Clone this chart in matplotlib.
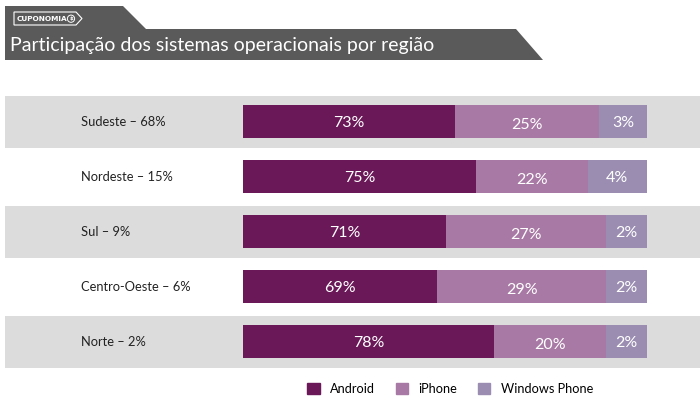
import matplotlib
matplotlib.use('Agg')
import matplotlib.pyplot as plt
from matplotlib.patches import Polygon, Patch

plt.rcParams['font.family'] = ['Lato', 'DejaVu Sans']

# data
regions = ['Sudeste – 68%', 'Nordeste – 15%', 'Sul – 9%', 'Centro-Oeste – 6%', 'Norte – 2%']
android_lbl = [73, 75, 71, 69, 78]
iphone_lbl = [25, 22, 27, 29, 20]
wphone_lbl = [3, 4, 2, 2, 2]
# segment lengths as drawn in the original graphic (share of the bar, %)
android_len = [52.5, 57.7, 50.2, 48.1, 62.1]
iphone_len = [35.6, 27.6, 39.6, 41.7, 27.7]
wphone_len = [11.9, 14.7, 10.2, 10.2, 10.2]

c_android = '#6a1858'
c_iphone = '#a879a5'
c_wphone = '#9a8db1'
c_band = '#dcdcdc'

W, H = 700, 405
fig = plt.figure(figsize=(7, 4.05), dpi=100)
fig.patch.set_facecolor('white')

# title banner
banner = Polygon([(5 / W, 1 - 6 / H), (123 / W, 1 - 6 / H), (146 / W, 1 - 29 / H),
                  (516 / W, 1 - 29 / H), (543 / W, 1 - 60 / H), (5 / W, 1 - 60 / H)],
                 closed=True, transform=fig.transFigure, facecolor='#5a5a5a',
                 edgecolor='none')
fig.patches.append(banner)
# logo tag
tag = Polygon([(14 / W, 1 - 12 / H), (76 / W, 1 - 12 / H), (82 / W, 1 - 18.5 / H),
               (76 / W, 1 - 25 / H), (14 / W, 1 - 25 / H)], closed=True,
              transform=fig.transFigure, facecolor='none', edgecolor='white', lw=0.8)
fig.patches.append(tag)
fig.text(17 / W, 1 - 18.7 / H, 'CUPONOMIA', color='white', fontsize=5.3,
         fontweight='bold', va='center', ha='left', family=['DejaVu Sans'])
fig.text(71 / W, 1 - 18.7 / H, '$', color='white', fontsize=4, fontweight='bold',
         va='center', ha='center', family=['DejaVu Sans'],
         bbox=dict(boxstyle='circle,pad=0.2', fc='none', ec='white', lw=0.7))
fig.text(10 / W, 1 - 45 / H, 'Participação dos sistemas operacionais por região',
         color='white', fontsize=14, va='center', ha='left')

# bars axes
left_px, right_px = 5, 700
top_px, bot_px = 94, 369
ax = fig.add_axes([left_px / W, 1 - bot_px / H, (right_px - left_px) / W,
                   (bot_px - top_px) / H])
unit = 404 / 100
x0 = -(243 - left_px) / unit
x1 = (right_px - 243) / unit
ax.set_xlim(x0, x1)
row = 55
ax.set_ylim(4 + (bot_px - 342) / row, -(122 - top_px) / row)
ax.axis('off')

n = len(regions)
ys = list(range(n))
for i in ys:
    if i % 2 == 0:
        ax.barh(i, x1 - x0, left=x0, height=52 / row, color=c_band, zorder=0)

ax.barh(ys, android_len, height=33 / row, color=c_android, zorder=2)
ax.barh(ys, iphone_len, left=android_len, height=33 / row, color=c_iphone, zorder=2)
left_w = [a + b for a, b in zip(android_len, iphone_len)]
ax.barh(ys, wphone_len, left=left_w, height=33 / row, color=c_wphone, zorder=2)

for i in ys:
    ax.text(-(243 - 81) / unit, i, regions[i], ha='left', va='center',
            fontsize=9.3, color='#222222')
    ax.text(android_len[i] / 2, i + 0.02, f'{android_lbl[i]}%', ha='center',
            va='center', color='white', fontsize=11.5, zorder=3)
    ax.text(android_len[i] + iphone_len[i] / 2, i + 0.05, f'{iphone_lbl[i]}%',
            ha='center', va='center', color='white', fontsize=11.5, zorder=3)
    ax.text(left_w[i] + wphone_len[i] / 2, i + 0.02, f'{wphone_lbl[i]}%',
            ha='center', va='center', color='white', fontsize=11.5, zorder=3)

handles = [Patch(color=c_android, label='Android'),
           Patch(color=c_iphone, label='iPhone'),
           Patch(color=c_wphone, label='Windows Phone')]
fig.legend(handles=handles, loc='center', bbox_to_anchor=(450 / W, 1 - 389 / H),
           ncol=3, frameon=False, fontsize=9.2, handlelength=1.0, handleheight=1.0,
           columnspacing=1.6, handletextpad=0.8)

fig.savefig('out.png', dpi=100)
